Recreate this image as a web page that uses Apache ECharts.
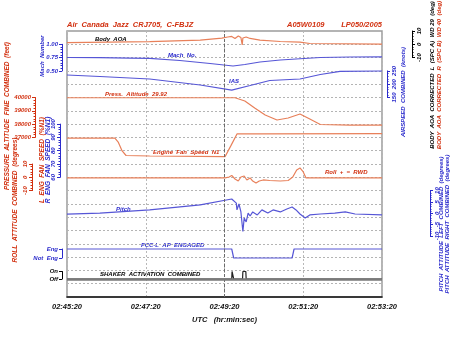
<!DOCTYPE html>
<html>
<head>
<meta charset="utf-8">
<script src="https://cdn.jsdelivr.net/npm/echarts@6/dist/echarts.min.js"></script>
<style>
  html, body { margin: 0; padding: 0; background: #fff; }
  #chart { width: 450px; height: 347px; }
</style>
</head>
<body>
<div id="chart"></div>
<script>
// Time is in seconds after 02:45:20 UTC
const timeLabels = ['02:45:20', '02:47:20', '02:49:20', '02:51:20', '02:53:20'];

// Body angle of attack (deg)
const aoaT = [0, 126, 203, 236, 245, 251, 256, 261, 265, 267, 268, 273, 279, 294, 325, 355, 370, 480];
const aoaV = [1.2, 2.0, 3.2, 4.7, 5.5, 5.9, 4.4, 6.2, 5.1, -0.5, 4.7, 5.5, 4.4, 3.2, 2.1, 1.7, 0.6, 0.2];

// Mach number
const machT = [0, 50, 96, 126, 172, 218, 253, 271, 294, 325, 355, 386, 431, 480];
const machV = [0.752, 0.748, 0.742, 0.737, 0.695, 0.639, 0.592, 0.620, 0.667, 0.705, 0.728, 0.752, 0.761, 0.765];

// Indicated airspeed (knots)
const iasT = [0, 50, 126, 203, 251, 279, 309, 355, 386, 416, 480];
const iasV = [234.6, 229, 219.5, 197, 178, 195, 214, 219.5, 236.5, 248, 249.6];

// Pressure altitude (feet)
const altT = [0, 256, 271, 286, 302, 320, 337, 355, 370, 386, 431, 480];
const altV = [39980, 39980, 39740, 39210, 38680, 38310, 38460, 38760, 38380, 37970, 37930, 37930];

// Engine fan speed (%N1)
const n1T = [0, 73, 78, 84, 90, 126, 241, 250, 259, 294, 480];
const n1V = [89.5, 89.5, 86.5, 79.8, 76.4, 76.0, 75.6, 84.0, 92.6, 92.6, 92.9];

// Roll attitude (deg, + = right wing down)
const rollT = [0, 241, 247, 251, 256, 261, 265, 270, 274, 279, 283, 288, 293, 299, 309, 325, 337, 344, 350, 355, 360, 364, 480];
const rollV = [-0.4, -0.4, 0.2, 1.4, -1.3, -2.8, 0.2, 1.0, -2.0, -0.5, -2.8, -4.3, -2.8, -2.0, -2.4, -2.8, -2.4, 0.2, 5.5, 7.0, 4.0, -0.4, -0.4];

// Pitch attitude (deg)
const pitchT = [0, 50, 126, 203, 251, 254, 258, 259, 262, 265, 268, 270, 273, 276, 279, 283, 290, 297, 306, 314, 325, 335, 343, 349, 355, 363, 370, 386, 408, 424, 439, 480];
const pitchV = [-0.4, 0.1, 1.5, 3.7, 6.3, 6.7, 4.5, 1.5, 4.1, 0.6, -8.0, -2.1, -3.8, 0.1, -1.2, 0.6, -0.7, 1.5, 0.1, 1.5, 0.6, 1.9, 2.8, 1.5, -0.3, -2.1, -0.7, -0.3, 0.1, 0.6, -0.3, -0.7];

// FCC-L autopilot engaged (1 = Eng, 0 = Not Eng)
const apT = [0, 251, 254, 343, 346, 480];
const apV = [1, 1, 0, 0, 1, 1];

// Stick shaker (1 = On, 0 = Off)
const shkT = [0, 251, 251.5, 253.5, 254, 267.5, 268, 272.5, 273, 480];
const shkV = [0, 0, 1, 1, 0, 0, 1, 1, 0, 0];

const RED = '#d2300f';
const BLUE = '#2b2bcc';
const LRED = '#e8805a';
const LBLUE = '#5656d6';
const FONT = '"Liberation Sans", Arial, sans-serif';

// plot frame in pixels
const P = { l: 67, r: 382, t: 31, b: 297 };

// each channel's scale range and the vertical strip of the frame it occupies
const bands = {
  aoa:   { lo: -10,   hi: 10,    yLo: 57.6,  yHi: 31 },
  mach:  { lo: 0.5,   hi: 1.0,   yLo: 70.9,  yHi: 44.3 },
  ias:   { lo: 150,   hi: 250,   yLo: 97.5,  yHi: 70.9 },
  alt:   { lo: 37000, hi: 40000, yLo: 137.4, yHi: 97.5 },
  n1:    { lo: 60,    hi: 100,   yLo: 177.3, yHi: 124.1 },
  roll:  { lo: -10,   hi: 10,    yLo: 190.6, yHi: 164 },
  pitch: { lo: -10,   hi: 10,    yLo: 236,   yHi: 190.6 },
  ap:    { lo: 0,     hi: 1,     yLo: 258,   yHi: 249 },
  shk:   { lo: 0,     hi: 1,     yLo: 279,   yHi: 271.5 }
};

// stretch a strip's range so the hidden axis covers the whole frame height
function extend(b) {
  const k = (b.yLo - b.yHi) / (b.hi - b.lo);
  return { min: b.lo - (P.b - b.yLo) / k, max: b.hi + (b.yHi - P.t) / k };
}

const channels = [
  { key: 'aoa',   t: aoaT,   v: aoaV,   color: LRED },
  { key: 'mach',  t: machT,  v: machV,  color: LBLUE },
  { key: 'ias',   t: iasT,   v: iasV,   color: LBLUE },
  { key: 'alt',   t: altT,   v: altV,   color: LRED },
  { key: 'n1',    t: n1T,    v: n1V,    color: LRED },
  { key: 'roll',  t: rollT,  v: rollV,  color: LRED },
  { key: 'pitch', t: pitchT, v: pitchV, color: LBLUE },
  { key: 'ap',    t: apT,    v: apV,    color: LBLUE },
  { key: 'shk',   t: shkT,   v: shkV,   color: '#222' }
];

// short scale brackets beside the frame
const scales = [
  { key: 'mach',  x: 62,  side: 'left',  color: BLUE,   interval: 0.25, fmt: v => v.toFixed(2), minor: 5 },
  { key: 'alt',   x: 35,  side: 'left',  color: RED,    interval: 1000, fmt: v => String(v), minor: 5 },
  { key: 'roll',  x: 32,  side: 'left',  color: RED,    interval: 10,   rotate: 90, minor: 5 },
  { key: 'n1',    x: 60,  side: 'left',  color: BLUE,   interval: 10,   rotate: 90, minor: 5 },
  { key: 'ap',    x: 62,  side: 'left',  color: BLUE,   interval: 1,    fmt: v => (v ? 'Eng' : 'Not  Eng') },
  { key: 'shk',   x: 62,  side: 'left',  color: '#000', interval: 1,    fmt: v => (v ? 'On' : 'Off') },
  { key: 'ias',   x: 387, side: 'right', color: BLUE,   interval: 50,   rotate: 90, minor: 5 },
  { key: 'aoa',   x: 412, side: 'right', color: '#000', interval: 10,   rotate: 90, minor: 5 },
  { key: 'pitch', x: 430, side: 'right', color: BLUE,   interval: 5,    rotate: 90, minor: 5 }
];

const grids = [{
  left: P.l, top: P.t, width: P.r - P.l, height: P.b - P.t,
  show: true, borderColor: '#9c9c9c', borderWidth: 1.5, outerBoundsMode: 'none'
}];

const xAxes = [{
  gridIndex: 0, type: 'value', min: 0, max: 480, interval: 120,
  name: 'UTC   (hr:min:sec)', nameLocation: 'middle', nameGap: 19,
  nameTextStyle: { fontSize: 7.5, fontStyle: 'italic', fontWeight: 'bold', fontFamily: FONT, color: '#111' },
  axisLine: { show: true, onZero: false, lineStyle: { color: '#111', width: 1.5 } },
  axisTick: { show: false },
  axisLabel: {
    fontSize: 7.5, fontStyle: 'italic', fontWeight: 'bold', fontFamily: FONT, color: '#111', margin: 6,
    formatter: v => timeLabels[Math.round(v / 120)]
  },
  splitLine: { show: true, lineStyle: { color: '#b8b8b8', type: [2, 2], width: 1 } }
}];

const yAxes = [{
  gridIndex: 0, type: 'value', min: 0, max: 20, interval: 1,
  axisLine: { show: false }, axisTick: { show: false }, axisLabel: { show: false },
  splitLine: { show: true, lineStyle: { color: '#b4b4b4', type: [2, 2], width: 1 } }
}];

const series = [];
channels.forEach(c => {
  const e = extend(bands[c.key]);
  yAxes.push({ gridIndex: 0, type: 'value', show: false, min: e.min, max: e.max, splitLine: { show: false } });
  series.push({
    type: 'line', xAxisIndex: 0, yAxisIndex: yAxes.length - 1,
    data: c.t.map((t, j) => [t, c.v[j]]),
    showSymbol: false, symbol: 'none', silent: true,
    lineStyle: { color: c.color, width: 1.2 }, itemStyle: { color: c.color }
  });
});

// heavy baseline under the shaker trace
series[series.length - 1].markLine = {
  silent: true, symbol: 'none', label: { show: false },
  lineStyle: { color: '#7a7a7a', type: 'solid', width: 2.5 },
  data: [{ yAxis: 0 }]
};
// darker reference line at 02:49:20
series[6].markLine = {
  silent: true, symbol: 'none', label: { show: false },
  lineStyle: { color: '#6a6a6a', type: [3, 2], width: 1 },
  data: [{ xAxis: 240 }]
};

scales.forEach(s => {
  const b = bands[s.key];
  const gi = grids.length;
  grids.push({
    left: s.side === 'left' ? s.x : s.x - 1, width: 1,
    top: b.yHi, height: b.yLo - b.yHi, show: false, outerBoundsMode: 'none'
  });
  xAxes.push({ gridIndex: gi, type: 'value', show: false, min: 0, max: 1 });
  yAxes.push({
    gridIndex: gi, type: 'value', position: s.side, min: b.lo, max: b.hi, interval: s.interval,
    axisLine: { show: true, onZero: false, lineStyle: { color: s.color, width: 1 } },
    axisTick: { show: true, length: 3, lineStyle: { color: s.color } },
    minorTick: { show: !!s.minor, splitNumber: s.minor || 5, length: 1.5, lineStyle: { color: s.color } },
    axisLabel: {
      color: s.color, fontSize: 6, fontStyle: 'italic', fontWeight: 'bold', fontFamily: FONT,
      rotate: s.rotate || 0, margin: 4, formatter: s.fmt
    },
    splitLine: { show: false }
  });
});

function txt(x, y, text, color, size, opts) {
  opts = opts || {};
  return {
    type: 'text', x: x, y: y, rotation: opts.rot || 0, silent: true,
    style: {
      text: text, fill: color,
      font: 'italic bold ' + size + 'px ' + FONT,
      align: opts.align || 'left', textAlign: opts.align || 'left',
      verticalAlign: 'middle', textVerticalAlign: 'middle'
    }
  };
}
const UP = Math.PI / 2;

const graphics = [
  // header
  txt(67, 25, 'Air  Canada  Jazz  CRJ705,  C-FBJZ', RED, 7.5),
  txt(287, 25, 'A05W0109', RED, 7.5),
  txt(382, 25, 'LP050/2005', RED, 7.5, { align: 'right' }),
  // axis titles, left
  txt(7, 116, 'PRESSURE  ALTITUDE  FINE  COMBINED  (feet)', RED, 6.5, { rot: UP, align: 'center' }),
  txt(15, 200, 'ROLL  ATTITUDE  COMBINED  (degrees)', RED, 6.5, { rot: UP, align: 'center' }),
  txt(42, 56, 'Mach  Number', BLUE, 6, { rot: UP, align: 'center' }),
  txt(42, 160, 'L  ENG  FAN  SPEED  (%N1)', RED, 6.5, { rot: UP, align: 'center' }),
  txt(48, 160, 'R  ENG  FAN  SPEED  (%N1)', BLUE, 6.5, { rot: UP, align: 'center' }),
  // axis titles, right
  txt(403, 92, 'AIRSPEED  COMBINED  (knots)', BLUE, 6, { rot: UP, align: 'center' }),
  txt(432, 75, 'BODY  AOA  CORRECTED  L  (SPC A)  WD 29  (deg)', '#000', 6, { rot: UP, align: 'center' }),
  txt(439, 75, 'BODY  AOA  CORRECTED  R  (SPC B)  WD 40  (deg)', RED, 6, { rot: UP, align: 'center' }),
  txt(441, 224, 'PITCH  ATTITUDE  LEFT  COMBINED  (degrees)', BLUE, 6, { rot: UP, align: 'center' }),
  txt(447, 224, 'PITCH  ATTITUDE  RIGHT  COMBINED  (degrees)', BLUE, 6, { rot: UP, align: 'center' }),
  // trace captions
  txt(95, 39.5, 'Body  AOA', '#000', 6),
  txt(168, 55, 'Mach  No.', BLUE, 6),
  txt(229, 81, 'IAS', BLUE, 6),
  txt(105, 94.5, 'Press.  Altitude  29.92', RED, 6),
  txt(153, 152.5, 'Engine  Fan  Speed  N1', RED, 6),
  txt(325, 172, 'Roll  +  =  RWD', RED, 6),
  txt(116, 209, 'Pitch', BLUE, 6),
  txt(141, 245, 'FCC-L  AP  ENGAGED', BLUE, 6),
  txt(100, 274.5, 'SHAKER  ACTIVATION  COMBINED', '#000', 6)
];

const chart = echarts.init(document.getElementById('chart'), null, { renderer: 'canvas' });
chart.setOption({
  animation: false,
  backgroundColor: '#fff',
  grid: grids,
  xAxis: xAxes,
  yAxis: yAxes,
  series: series,
  graphic: graphics
});
</script>
</body>
</html>
